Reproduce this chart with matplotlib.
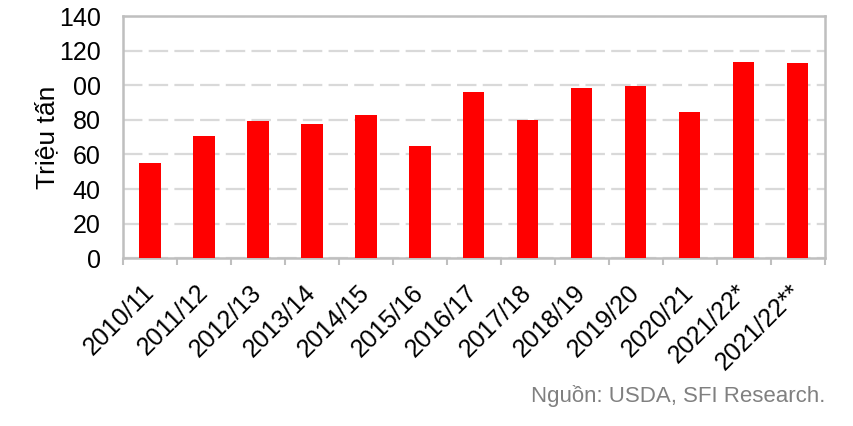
import matplotlib
matplotlib.use("Agg")
import matplotlib.pyplot as plt
import numpy as np

# du lieu doc tu hinh (trieu tan)
seasons = ["2010/11", "2011/12", "2012/13", "2013/14", "2014/15", "2015/16",
           "2016/17", "2017/18", "2018/19", "2019/20", "2020/21", "2021/22*",
           "2021/22**"]
values = [55.0, 70.6, 79.2, 77.5, 82.7, 64.8, 96.0, 79.8, 98.3, 99.5, 84.4,
          113.4, 112.8]
y_ticks = [0, 20, 40, 60, 80, 100, 120, 140]
y_tick_labels = ["0", "20", "40", "60", "80", "00", "120", "140"]

plt.rcParams['font.family'] = ['Liberation Sans', 'DejaVu Sans']
plt.rcParams['lines.scale_dashes'] = False

fig = plt.figure(figsize=(8.54, 4.26), dpi=100)
ax = fig.add_axes([0.144, 0.394, 0.822, 0.568])

x = np.arange(len(seasons))
ax.bar(x, values, width=0.39, color='#FF0000', zorder=3)

ax.set_xlim(-0.5, len(seasons) - 0.5)
ax.set_ylim(0, 140)
ax.set_yticks(y_ticks)
ax.set_yticklabels(y_tick_labels)
ax.yaxis.grid(True, color='#D9D9D9', linewidth=1.6, linestyle=(0, (14, 4.5)), zorder=1)
ax.set_axisbelow(True)

for s in ax.spines.values():
    s.set_color('#BFBFBF')
    s.set_linewidth(1.8)

ax.tick_params(axis='y', length=0, pad=16, labelsize=18, colors='black')
ax.set_xticks(x)
ax.set_xticklabels(seasons, rotation=45, ha='right', va='center',
                   rotation_mode='anchor', fontsize=18)
ax.tick_params(axis='x', which='major', length=0, pad=22)
ax.set_xticks(np.arange(-0.5, len(seasons), 1.0), minor=True)
ax.tick_params(axis='x', which='minor', length=5, width=1.5, color='#BFBFBF')

ax.set_ylabel("Triệu tấn", fontsize=19, labelpad=0)

fig.text(0.967, 0.07, "Nguồn: USDA, SFI Research.", ha='right', va='center',
         fontsize=16, color='#808080')

fig.savefig("out.png", dpi=100)
